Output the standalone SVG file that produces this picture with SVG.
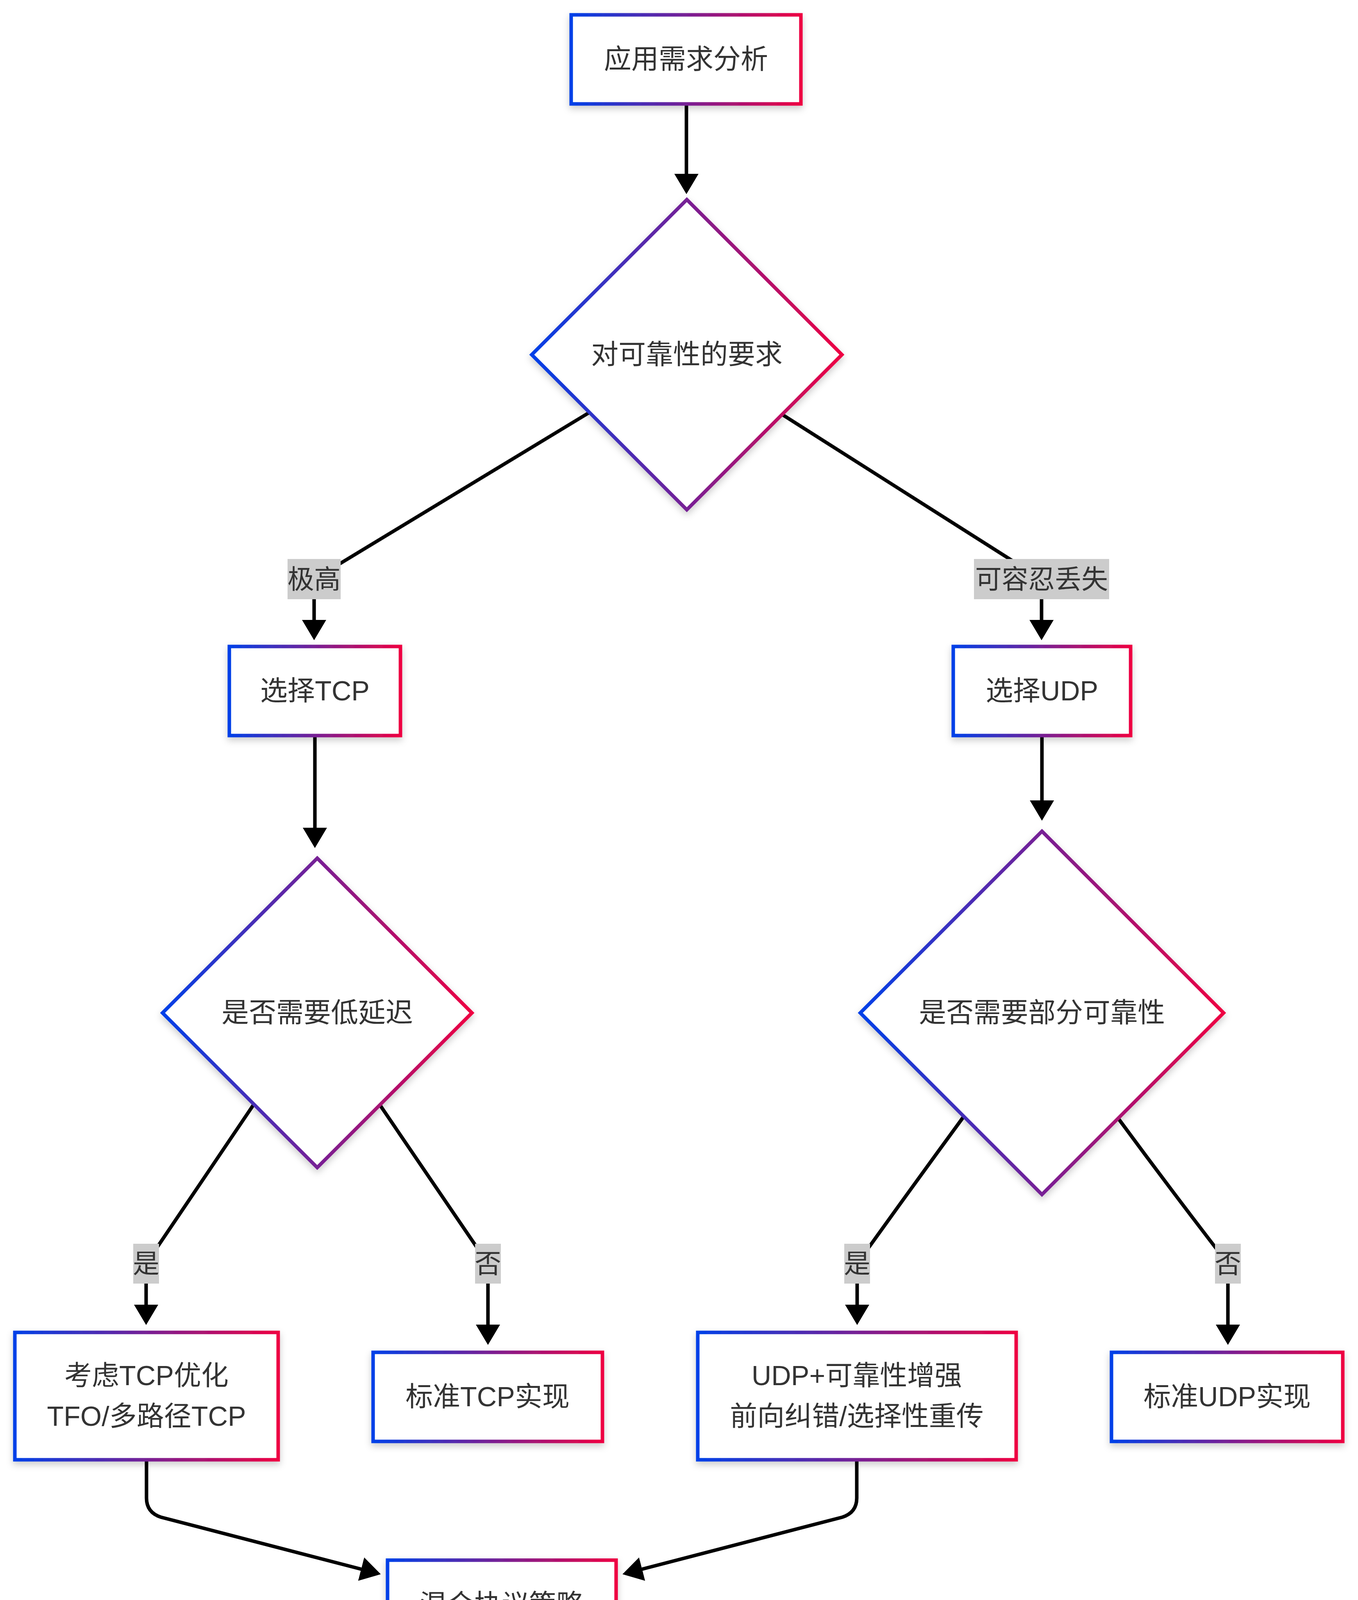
<svg xmlns="http://www.w3.org/2000/svg" width="3476" height="4740" viewBox="0 0 3476 4740">
<defs>
<linearGradient id="g" x1="0" y1="0" x2="1" y2="0"><stop offset="0" stop-color="#0040e8"/><stop offset="1" stop-color="#ee0042"/></linearGradient>
<filter id="sh" x="-20%" y="-20%" width="140%" height="150%"><feDropShadow dx="0" dy="8" stdDeviation="9" flood-color="#000" flood-opacity="0.2"/></filter>
<marker id="ah" viewBox="0 0 52 62" refX="12" refY="31" markerWidth="52" markerHeight="62" markerUnits="userSpaceOnUse" orient="auto"><path d="M0,0 L52,31 L0,62 z" fill="#000"/></marker>
</defs>
<style>
.n{fill:#fff;stroke:url(#g);stroke-width:9;filter:url(#sh)}
.e{fill:none;stroke:#000;stroke-width:9;marker-end:url(#ah)}
.t{font-family:"Liberation Sans","Noto Sans CJK SC",sans-serif;font-size:70px;fill:#333;text-anchor:middle;dominant-baseline:central}
.lt{font-family:"Liberation Sans","Noto Sans CJK SC",sans-serif;font-size:68px;fill:#333;text-anchor:middle;dominant-baseline:central}
.lb{fill:#cccccc}
.wm{font-family:"Liberation Sans","Noto Sans CJK SC",sans-serif;font-size:64px;fill:#e2e2e2;text-anchor:end}
</style>
<rect x="0" y="0" width="3476" height="4740" fill="#fff"/>
<g id="connectors">
<path class="e" d="M1757 266 L1757 457"/>
<path class="e" d="M1510 1055 L804 1483 L804 1599"/>
<path class="e" d="M2002 1061 L2666 1483 L2666 1599"/>
<path class="e" d="M806 1883 L806 2131"/>
<path class="e" d="M2667 1883 L2667 2061"/>
<path class="e" d="M649 2828 Q520 3020 374 3235 L374 3352"/>
<path class="e" d="M972 2828 Q1110 3030 1249 3235 L1249 3403"/>
<path class="e" d="M2467 2858 Q2330 3045 2194 3235 L2194 3352"/>
<path class="e" d="M2863 2864 Q3000 3050 3143 3235 L3143 3403"/>
<path class="e" d="M375 3737 L375 3835 Q375 3872 412 3884 L936 4020"/>
<path class="e" d="M2193 3737 L2193 3835 Q2193 3872 2156 3884 L1632 4020"/>
<path class="e" d="M1284 4222 L1284 4412"/>
</g>
<g id="edge-labels">
<g id="label-high"><rect class="lb" x="736" y="1431" width="136" height="103"/><text class="lt" x="804" y="1483">极高</text></g>
<g id="label-tolerate"><rect class="lb" x="2493" y="1431" width="346" height="103"/><text class="lt" x="2666" y="1483">可容忍丢失</text></g>
<g id="label-yes1"><rect class="lb" x="341" y="3184" width="66" height="102"/><text class="lt" x="374" y="3235">是</text></g>
<g id="label-no1"><rect class="lb" x="1216" y="3184" width="66" height="102"/><text class="lt" x="1249" y="3235">否</text></g>
<g id="label-yes2"><rect class="lb" x="2161" y="3184" width="66" height="102"/><text class="lt" x="2194" y="3235">是</text></g>
<g id="label-no2"><rect class="lb" x="3110" y="3184" width="66" height="102"/><text class="lt" x="3143" y="3235">否</text></g>
</g>
<g id="node-A"><rect class="n" x="1462" y="38" width="588" height="228"/><text class="t" x="1756" y="152">应用需求分析</text></g>
<g id="node-B"><polygon class="n" points="1758,511 2155,908 1758,1305 1361,908"/><text class="t" x="1758" y="908">对可靠性的要求</text></g>
<g id="node-D"><rect class="n" x="587" y="1655" width="438" height="228"/><text class="t" x="806" y="1769">选择TCP</text></g>
<g id="node-F"><rect class="n" x="2440" y="1655" width="454" height="228"/><text class="t" x="2667" y="1769">选择UDP</text></g>
<g id="node-G"><polygon class="n" points="812,2197 1208,2593 812,2989 416,2593"/><text class="t" x="812" y="2593">是否需要低延迟</text></g>
<g id="node-H"><polygon class="n" points="2667,2128 3132,2593 2667,3058 2202,2593"/><text class="t" x="2667" y="2593">是否需要部分可靠性</text></g>
<g id="node-I"><rect class="n" x="38" y="3411" width="674" height="326"/><text class="t" x="375" y="3522">考虑TCP优化</text><text class="t" x="375" y="3626">TFO/多路径TCP</text></g>
<g id="node-J"><rect class="n" x="955" y="3462" width="587" height="228"/><text class="t" x="1248" y="3576">标准TCP实现</text></g>
<g id="node-K"><rect class="n" x="1786" y="3411" width="815" height="326"/><text class="t" x="2193" y="3522">UDP+可靠性增强</text><text class="t" x="2193" y="3626">前向纠错/选择性重传</text></g>
<g id="node-L"><rect class="n" x="2845" y="3462" width="592" height="228"/><text class="t" x="3141" y="3576">标准UDP实现</text></g>
<g id="node-M"><rect class="n" x="992" y="3994" width="585" height="228"/><text class="t" x="1284" y="4108">混合协议策略</text></g>
<g id="node-N"><rect class="n" x="992" y="4468" width="585" height="228"/><text class="t" x="1284" y="4582">最终协议架构</text></g>
<text class="wm" x="3468" y="4707">CSDN @架构进化论</text>
</svg>
